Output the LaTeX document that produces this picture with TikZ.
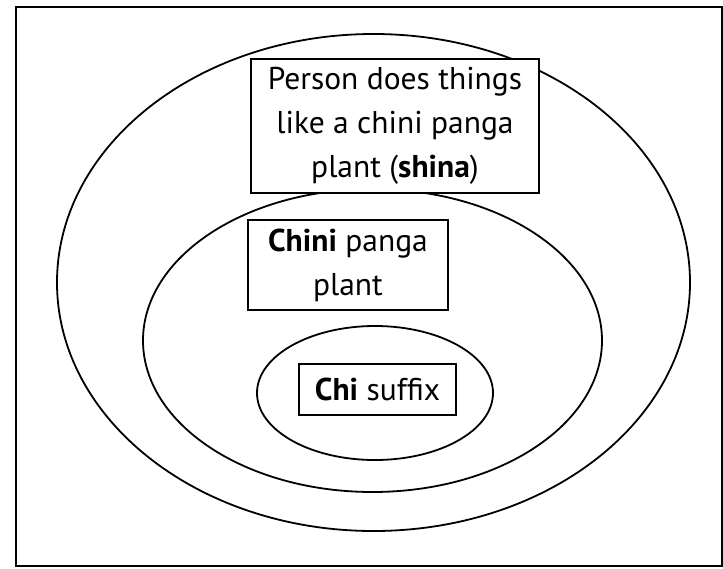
\documentclass[tikz,border=0pt]{standalone}
\usepackage{fontspec}
\setmainfont{PT Sans}
\usetikzlibrary{shapes.geometric}
\tikzset{
  ring/.style={draw, ellipse, line width=1.8pt, inner sep=0pt},
  labelbox/.style={draw, fill=white, line width=1.8pt, inner sep=0pt, align=center,
    font=\fontsize{31.5}{44}\selectfont},
  frame/.style={draw, line width=1.8pt, inner sep=0pt}
}
\begin{document}
\begin{tikzpicture}[x=1pt,y=-1pt]
\useasboundingbox (0,0) rectangle (723,568);
\node[frame, minimum width=706pt, minimum height=559pt] (fr) at (369,286.5) {};
\node[ring, minimum width=633pt, minimum height=497pt] (outer) at (373.5,282.5) {};
\node[ring, minimum width=459pt, minimum height=303pt] (middle) at (372.5,340.5) {};
\node[ring, minimum width=236pt, minimum height=134pt] (inner) at (375,393) {};
\node[labelbox, minimum width=288pt, minimum height=134pt] (b1) at (395,126)
  {Person does things\\like a chini panga\\plant (\textbf{shina})};
\node[labelbox, minimum width=200pt, minimum height=90pt] (b2) at (348,265)
  {\textbf{Chini} panga\\plant};
\node[labelbox, minimum width=157pt, minimum height=51pt] (b3) at (377.5,389.5)
  {\textbf{Chi} suffix};
\end{tikzpicture}
\end{document}
